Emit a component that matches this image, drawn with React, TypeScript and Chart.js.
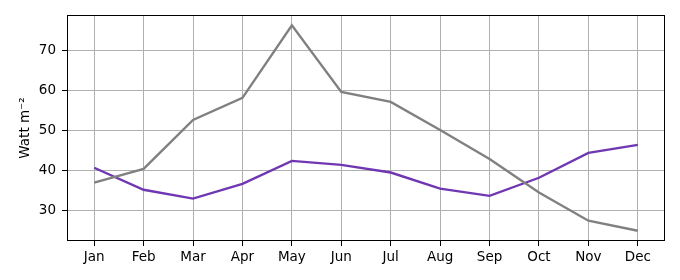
import React, { useEffect, useRef } from "react";
import { Chart, registerables } from "chart.js";

Chart.register(...registerables);

const months = ["Jan", "Feb", "Mar", "Apr", "May", "Jun", "Jul", "Aug", "Sep", "Oct", "Nov", "Dec"];
const graySeries = [37.0, 40.4, 52.6, 58.1, 76.2, 59.6, 57.1, 50.1, 42.9, 34.5, 27.5, 25.0];
const purpleSeries = [40.7, 35.2, 33.0, 36.7, 42.4, 41.4, 39.5, 35.5, 33.7, 38.2, 44.4, 46.4];
const yTicks = [30, 40, 50, 60, 70];
const yLabel = "Watt m\u207B\u00B2";

const FONT = "'DejaVu Sans', sans-serif";

const frame = {
  id: "frame",
  afterDraw(chart: any) {
    const { ctx, chartArea: a } = chart;
    ctx.save();
    ctx.strokeStyle = "#000";
    ctx.lineWidth = 1;
    ctx.strokeRect(Math.round(a.left) + 0.5, Math.round(a.top) + 0.5, Math.round(a.right - a.left) - 1, Math.round(a.bottom - a.top) - 1);
    ctx.restore();
  },
};

export default function App() {
  const ref = useRef<HTMLCanvasElement>(null);
  useEffect(() => {
    document.body.style.margin = "0";
    const all = [...graySeries, ...purpleSeries];
    const lo = Math.min(...all);
    const hi = Math.max(...all);
    const m = (hi - lo) * 0.05;
    const chart = new Chart(ref.current!, {
      type: "line",
      data: {
        datasets: [
          {
            data: graySeries.map((v, i) => ({ x: i, y: v })),
            borderColor: "#808080",
            borderWidth: 2.4,
            pointRadius: 0,
            tension: 0,
          },
          {
            data: purpleSeries.map((v, i) => ({ x: i, y: v })),
            borderColor: "#7037b2",
            borderWidth: 2.4,
            pointRadius: 0,
            tension: 0,
          },
        ],
      },
      options: {
        animation: false,
        responsive: false,
        layout: { padding: { left: 0, top: 15, right: 15, bottom: 0 } },
        plugins: { legend: { display: false }, tooltip: { enabled: false } },
        scales: {
          x: {
            type: "linear",
            min: -0.55,
            max: months.length - 1 + 0.55,
            afterBuildTicks: (s: any) => {
              s.ticks = months.map((_, i) => ({ value: i }));
            },
            afterFit: (s: any) => {
              s.height = 39;
            },
            ticks: {
              callback: (v: any) => months[v] ?? "",
              color: "#000",
              font: { family: FONT, size: 13.5 },
              padding: 3,
              maxRotation: 0,
              autoSkip: false,
            },
            grid: { color: "#b0b0b0", lineWidth: 1, tickLength: 5, tickColor: "#000" },
            border: { display: false },
          },
          y: {
            type: "linear",
            min: lo - m,
            max: hi + m,
            afterBuildTicks: (s: any) => {
              s.ticks = yTicks.map((v) => ({ value: v }));
            },
            afterFit: (s: any) => {
              s.width = 67;
            },
            ticks: {
              color: "#000",
              font: { family: FONT, size: 13.5 },
              padding: 6,
            },
            grid: { color: "#b0b0b0", lineWidth: 1, tickLength: 5, tickColor: "#000" },
            border: { display: false },
            title: {
              display: true,
              text: yLabel,
              color: "#000",
              font: { family: FONT, size: 13.5 },
              padding: { top: 17, bottom: 0 },
            },
          },
        },
      },
      plugins: [frame],
    });
    return () => chart.destroy();
  }, []);
  return <canvas ref={ref} width={680} height={280} style={{ display: "block" }} />;
}
